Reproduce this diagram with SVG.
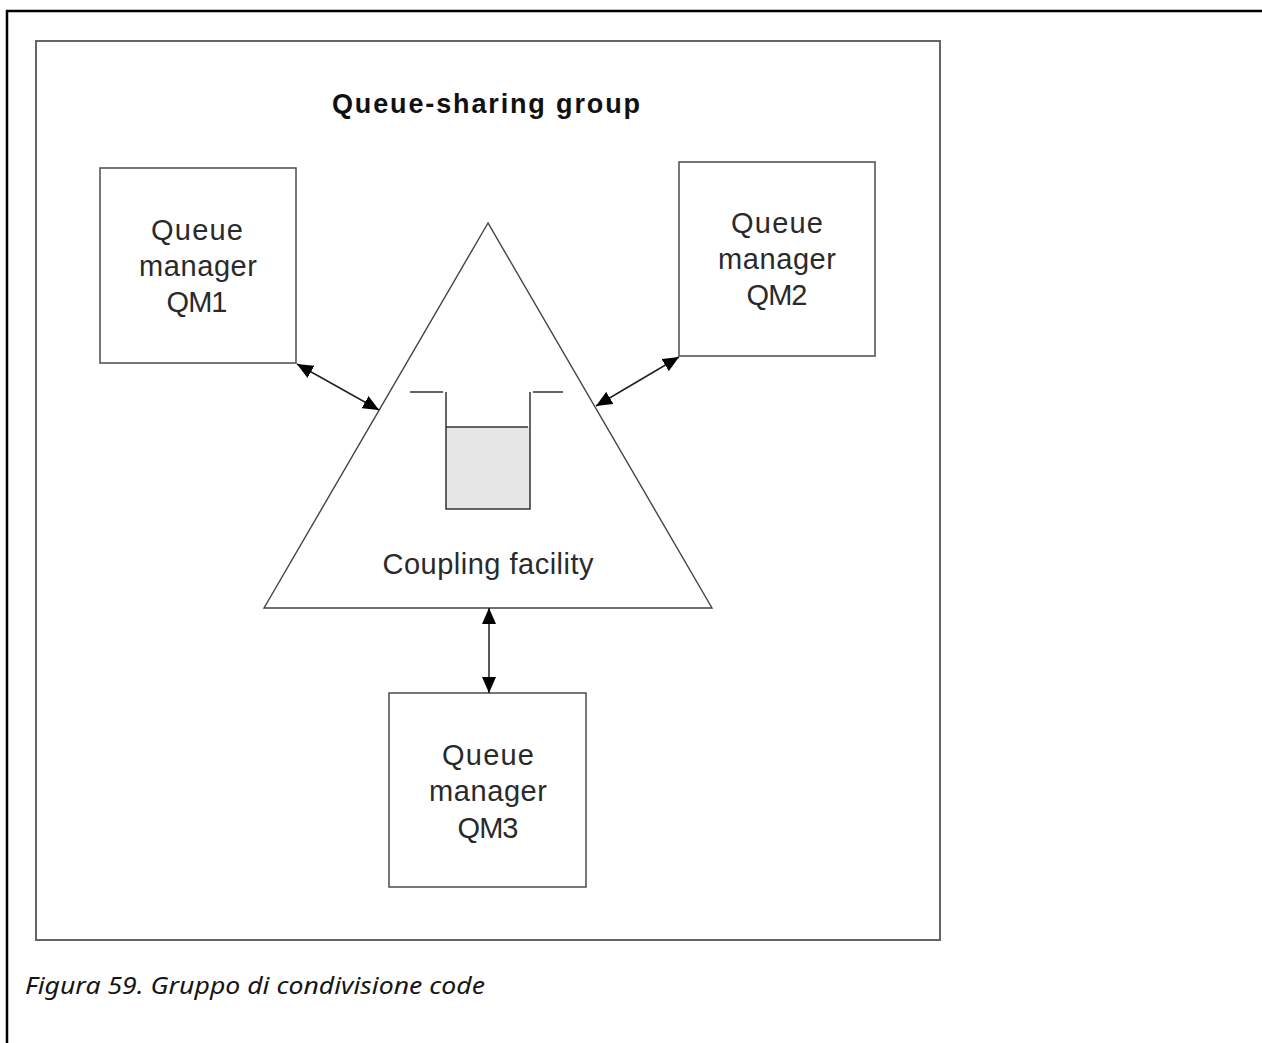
<svg xmlns="http://www.w3.org/2000/svg" width="1262" height="1043" viewBox="0 0 1262 1043">
<defs>
<style>
.lbl{font-family:"Liberation Sans",Arial,sans-serif;font-size:29px;fill:#2a2a2a;text-anchor:middle}
.box{fill:none;stroke:#555;stroke-width:1.6}
.conn{stroke:#222;stroke-width:1.5;fill:none}
</style>
<marker id="ah" viewBox="0 0 16 14" refX="16" refY="7" markerWidth="16" markerHeight="14" markerUnits="userSpaceOnUse" orient="auto-start-reverse">
<path d="M0,0 L16,7 L0,14 z" fill="#000"/>
</marker>
</defs>
<rect width="1262" height="1043" fill="#fff"/>
<path d="M7,1043 V11 H1262" fill="none" stroke="#000" stroke-width="2.5"/>
<g id="group">
<rect x="36" y="41" width="904" height="899" fill="none" stroke="#666" stroke-width="2"/>
<text x="486" y="113" font-family="'Liberation Sans',Arial,sans-serif" font-size="27" font-weight="bold" fill="#111" text-anchor="middle" textLength="308" lengthAdjust="spacing">Queue-sharing group</text>
</g>
<g id="cf">
<polygon points="488,223 264,608 712,608" fill="none" stroke="#444" stroke-width="1.4"/>
<rect x="446" y="427" width="84" height="82" fill="#e6e6e6"/>
<path d="M410,392 H443 M446,392 V509 H530 V392 M533,392 H563 M446,427 H528" fill="none" stroke="#333" stroke-width="1.5"/>
<text class="lbl" x="488" y="574" textLength="211" lengthAdjust="spacing">Coupling facility</text>
</g>
<g id="qm1">
<rect class="box" x="100" y="168" width="196" height="195"/>
<text class="lbl" x="197" y="240" textLength="92" lengthAdjust="spacing">Queue</text>
<text class="lbl" x="198" y="276" textLength="118" lengthAdjust="spacing">manager</text>
<text class="lbl" x="197" y="312" textLength="61" lengthAdjust="spacing">QM1</text>
</g>
<g id="qm2">
<rect class="box" x="679" y="162" width="196" height="194"/>
<text class="lbl" x="777" y="233" textLength="92" lengthAdjust="spacing">Queue</text>
<text class="lbl" x="777" y="269" textLength="118" lengthAdjust="spacing">manager</text>
<text class="lbl" x="777" y="305" textLength="61" lengthAdjust="spacing">QM2</text>
</g>
<g id="qm3">
<rect class="box" x="389" y="693" width="197" height="194"/>
<text class="lbl" x="488" y="765" textLength="92" lengthAdjust="spacing">Queue</text>
<text class="lbl" x="488" y="801" textLength="118" lengthAdjust="spacing">manager</text>
<text class="lbl" x="488" y="838" textLength="61" lengthAdjust="spacing">QM3</text>
</g>
<g id="connectors">
<line class="conn" x1="297" y1="364" x2="379" y2="410" marker-start="url(#ah)" marker-end="url(#ah)"/>
<line class="conn" x1="679" y1="357" x2="596" y2="406" marker-start="url(#ah)" marker-end="url(#ah)"/>
<line class="conn" x1="489" y1="608" x2="489" y2="693" marker-start="url(#ah)" marker-end="url(#ah)"/>
</g>
<text x="25" y="994" font-family="'Noto Sans','Liberation Sans',sans-serif" font-style="italic" font-size="23" fill="#161616" textLength="460" lengthAdjust="spacingAndGlyphs">Figura 59. Gruppo di condivisione code</text>
</svg>
